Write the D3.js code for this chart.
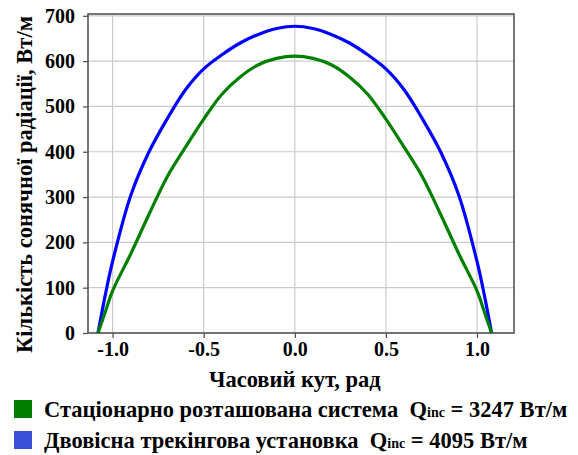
<!DOCTYPE html>
<meta charset="utf-8">
<style>
    body { margin: 0; background: #fff; }
</style>
<script src="https://d3js.org/d3.v7.min.js"></script>
<body>
<div id="chart"></div>
<script>

    var FONT = "Liberation Serif";

    // hour angle, rad
    var hourAngle = [-1.08, -1.04, -1.0, -0.9, -0.8, -0.7, -0.6, -0.5, -0.4, -0.3, -0.2, -0.1, 0,
                      0.1, 0.2, 0.3, 0.4, 0.5, 0.6, 0.7, 0.8, 0.9, 1.0, 1.04, 1.08];
    // stationary system
    var fixedVals = [0, 47, 93, 175, 262, 345, 410, 472, 527, 565, 592, 606, 611,
                     606, 592, 565, 527, 472, 410, 345, 262, 175, 93, 47, 0];
    // two-axis tracker
    var trackVals = [0, 84, 158, 304, 400, 473, 537, 583, 614, 640, 659, 672, 677,
                     672, 659, 640, 614, 583, 537, 473, 400, 304, 158, 84, 0];

    var xTicks = [-1.0, -0.5, 0.0, 0.5, 1.0];
    var yTicks = [0, 100, 200, 300, 400, 500, 600, 700];

    var legendItems = [
        {label: "Стаціонарно розташована система", q: "3247", color: "#007d00"},
        {label: "Двовісна трекінгова установка", q: "4095", color: "#3b4fd9"}
    ];

    var W = 578, H = 455;
    var margin = {top: 14, right: 64, bottom: 122, left: 88},
        width = W - margin.left - margin.right,
        height = H - margin.top - margin.bottom;

    var svg = d3.select("#chart").append("svg")
        .attr("width", W)
        .attr("height", H);

    var g = svg.append("g")
        .attr("transform", "translate(" + margin.left + "," + margin.top + ")");

    var x = d3.scaleLinear().domain([-1.135, 1.203]).range([0, width]);
    var y = d3.scaleLinear().domain([0, 704]).range([height, 0]);

    function serif(sel, size) {
        return sel.style("font-family", FONT)
            .style("font-weight", "bold")
            .style("font-size", size + "px")
            .attr("fill", "#000");
    }

    // grid
    g.append("g").selectAll("line").data(xTicks).enter().append("line")
        .attr("x1", d => x(d)).attr("x2", d => x(d))
        .attr("y1", 0).attr("y2", height)
        .attr("stroke", "#cbcbcb").attr("stroke-width", 1.2);
    g.append("g").selectAll("line").data(yTicks).enter().append("line")
        .attr("y1", d => y(d)).attr("y2", d => y(d))
        .attr("x1", 0).attr("x2", width)
        .attr("stroke", "#cbcbcb").attr("stroke-width", 1.2);

    // axes
    var xAxis = g.append("g")
        .attr("transform", "translate(0," + height + ")")
        .call(d3.axisBottom(x).tickValues(xTicks).tickSizeOuter(0).tickSize(5).tickPadding(4));
    var yAxis = g.append("g")
        .call(d3.axisLeft(y).tickValues(yTicks).tickSizeOuter(0).tickSize(5).tickPadding(8));

    [xAxis, yAxis].forEach(function (a) {
        a.attr("font-family", null).attr("font-size", null);
        a.select(".domain").remove();
        a.selectAll("line").attr("stroke", "#555").attr("stroke-width", 1.3);
        serif(a.selectAll("text"), 20);
    });
    xAxis.selectAll("text").text(function (d) { return d3.format(".1f")(d).replace("−", "-"); });

    // frame
    g.append("rect")
        .attr("width", width).attr("height", height)
        .attr("fill", "none").attr("stroke", "#555").attr("stroke-width", 1.6);

    // curves
    var line = d3.line()
        .x(function (d) { return x(d[0]); })
        .y(function (d) { return y(d[1]); })
        .curve(d3.curveCatmullRom);

    g.append("path")
        .datum(d3.zip(hourAngle, trackVals))
        .attr("d", line)
        .attr("fill", "none").attr("stroke", "#0000ff").attr("stroke-width", 3.2);

    g.append("path")
        .datum(d3.zip(hourAngle, fixedVals))
        .attr("d", line)
        .attr("fill", "none").attr("stroke", "#008000").attr("stroke-width", 3.2);

    // axis titles
    serif(svg.append("text"), 22.5)
        .attr("x", x(0) + margin.left).attr("y", 387)
        .attr("text-anchor", "middle")
        .text("Часовий кут, рад");

    serif(svg.append("text"), 22.5)
        .attr("transform", "translate(32," + (margin.top + height / 2 + 11) + ") rotate(-90)")
        .attr("text-anchor", "middle")
        .text("Кількість сонячної радіації, Вт/м");

    // legend
    var leg = svg.append("g").selectAll("g").data(legendItems).enter().append("g")
        .attr("transform", function (d, i) { return "translate(14," + (400 + i * 31) + ")"; });

    leg.append("rect")
        .attr("width", 18).attr("height", 18)
        .attr("fill", function (d) { return d.color; });

    var lt = serif(leg.append("text"), 22.5)
        .attr("x", 30).attr("y", 16.5);
    serif(lt.append("tspan"), 22.5).text(function (d) { return d.label + "\u00a0\u00a0Q"; });
    serif(lt.append("tspan"), 14).text("inc");
    serif(lt.append("tspan"), 22.5).text(function (d) { return " = " + d.q + " Вт/м"; });

</script>
</body>
